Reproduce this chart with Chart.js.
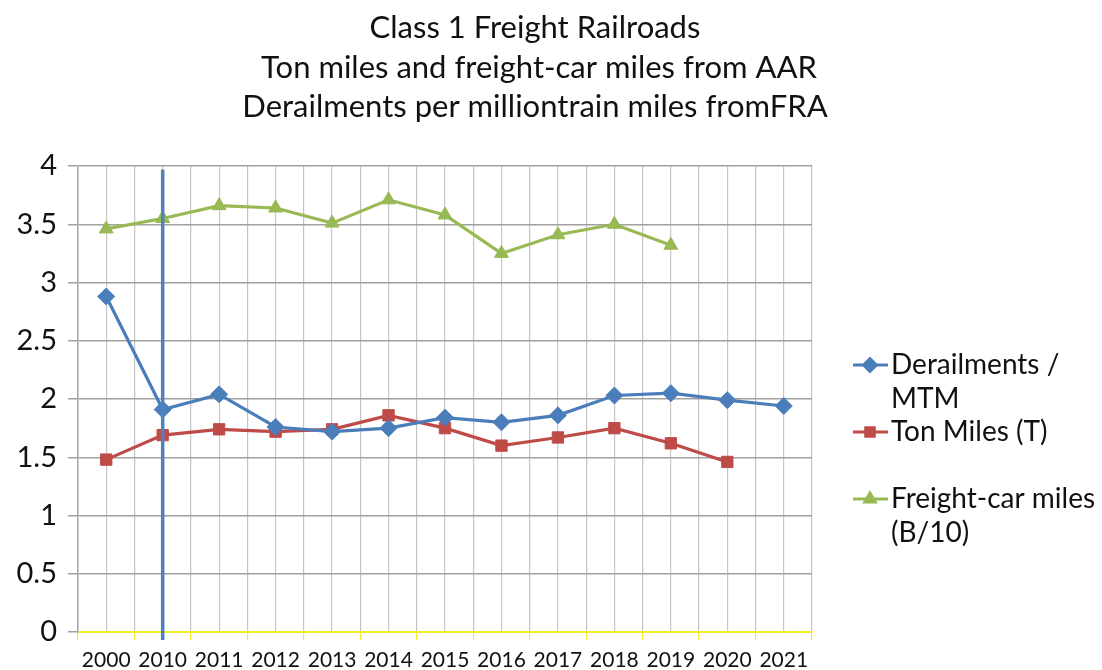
<!DOCTYPE html>
<html>
<head>
<meta charset="utf-8">
<script src="https://cdn.jsdelivr.net/npm/chart.js@4/dist/chart.umd.min.js"></script>
<style>
  html, body { margin: 0; padding: 0; background: #fff; }
  #wrap { width: 1102px; height: 670px; position: relative; }
</style>
</head>
<body>
<div id="wrap"><canvas id="chart_rail"></canvas></div>
<script>
// chart data
const years = ["2000", "2010", "2011", "2012", "2013", "2014", "2015", "2016", "2017", "2018", "2019", "2020", "2021"];
const derailments = [2.88, 1.91, 2.04, 1.76, 1.72, 1.75, 1.84, 1.80, 1.86, 2.03, 2.05, 1.99, 1.94];
const tonMiles = [1.48, 1.69, 1.74, 1.72, 1.74, 1.86, 1.75, 1.60, 1.67, 1.75, 1.62, 1.46, null];
const carMiles = [3.46, 3.55, 3.66, 3.64, 3.51, 3.71, 3.58, 3.25, 3.41, 3.50, 3.32, null, null];
const yTicks = [0, 0.5, 1, 1.5, 2, 2.5, 3, 3.5, 4];
const titleLines = ["Class 1 Freight Railroads", " Ton miles and freight-car miles from AAR", "Derailments per milliontrain miles fromFRA"];
const legendLines = [["Derailments /", "MTM"], ["Ton Miles (T)"], ["Freight-car miles", "(B/10)"]];
const markerYear = "2010";

const BLUE = "#4a7ebb", RED = "#be4b48", GREEN = "#98b954";
const FONT = "Lato, 'Open Sans', sans-serif";

function series(label, data, color, style, radius) {
  return {
    label: label.join(" "),
    legendText: label,
    data: data,
    borderColor: color,
    backgroundColor: color,
    borderWidth: 3.2,
    pointStyle: style,
    pointRadius: radius,
    pointHoverRadius: radius,
    pointBorderWidth: 1,
    tension: 0,
    spanGaps: false
  };
}

// blue vertical line at 2010
const yearLine = {
  id: "yearLine",
  afterDatasetsDraw(chart) {
    const x = chart.scales.x.getPixelForValue(years.indexOf(markerYear));
    const y = chart.scales.y;
    const ctx = chart.ctx;
    ctx.save();
    ctx.strokeStyle = "#4f81bd";
    ctx.lineWidth = 3.5;
    ctx.beginPath();
    ctx.moveTo(x, y.getPixelForValue(3.97));
    ctx.lineTo(x, y.bottom + 8);
    ctx.stroke();
    ctx.restore();
  }
};

// legend on the right, text wraps like the original
const sideLegend = {
  id: "sideLegend",
  afterDraw(chart) {
    const ctx = chart.ctx;
    const left = chart.chartArea.right + 41;
    const lineH = 33.5;
    let yy = 365;
    ctx.save();
    ctx.font = "28px " + FONT;
    ctx.textBaseline = "middle";
    ctx.textAlign = "left";
    chart.data.datasets.forEach((ds) => {
      ctx.strokeStyle = ds.borderColor;
      ctx.fillStyle = ds.backgroundColor;
      ctx.lineWidth = 3;
      ctx.beginPath();
      ctx.moveTo(left, yy);
      ctx.lineTo(left + 35, yy);
      ctx.stroke();
      Chart.helpers.drawPoint(ctx, { pointStyle: ds.pointStyle, radius: ds.pointRadius * 0.75, borderWidth: 1, rotation: 0 }, left + 17, yy);
      ctx.fillStyle = "#111";
      ds.legendText.forEach((t, i) => ctx.fillText(t, left + 38, yy + i * lineH));
      yy += lineH * 2;
    });
    ctx.restore();
  }
};

const railChart = new Chart(document.getElementById("chart_rail"), {
  type: "line",
  data: {
    labels: years,
    datasets: [
      series(legendLines[0], derailments, BLUE, "rectRot", 8.5),
      series(legendLines[1], tonMiles, RED, "rect", 8),
      series(legendLines[2], carMiles, GREEN, "triangle", 8)
    ]
  },
  options: {
    responsive: true,
    maintainAspectRatio: false,
    animation: false,
    layout: { padding: { left: 0, right: 32, top: 0, bottom: 0 } },
    plugins: {
      legend: { display: false },
      tooltip: { enabled: false },
      title: {
        display: true,
        text: titleLines,
        color: "#111",
        font: { family: FONT, size: 31, weight: "normal", lineHeight: 1.28 },
        padding: { top: 8, bottom: 39 }
      }
    },
    scales: {
      x: {
        offset: true,
        grid: { offset: true, color: "#c4c4c4", lineWidth: 1.2, tickColor: "#f2ee1f", tickLength: 8 },
        border: { display: true, color: "#f2ee1f", width: 2 },
        ticks: { color: "#111", font: { family: FONT, size: 21 }, padding: 8, maxRotation: 0, autoSkip: false },
        afterFit: (s) => { s.height = 38; }
      },
      x2: {
        type: "category",
        labels: years,
        position: "bottom",
        offset: true,
        grid: { offset: false, color: "#c8c8c8", lineWidth: 1.2, drawTicks: false },
        border: { display: false },
        ticks: { display: false },
        afterFit: (s) => { s.height = 0; }
      },
      y: {
        min: 0,
        max: 4,
        afterBuildTicks: (s) => { s.ticks = yTicks.map((v) => ({ value: v })); },
        grid: { color: "#a0a0a0", lineWidth: 1.5, tickLength: 10, tickColor: "#a0a0a0" },
        border: { display: true, color: "#a8a8a8", width: 1.5 },
        ticks: { color: "#111", font: { family: FONT, size: 29 }, padding: 11, callback: (v) => String(v) },
        afterFit: (s) => { s.width = 78; }
      },
      // empty axis only to keep room for the legend
      yRoom: {
        position: "right",
        grid: { display: false, drawTicks: false },
        border: { display: false },
        ticks: { display: false },
        afterFit: (s) => { s.width = 258; }
      }
    }
  },
  plugins: [yearLine, sideLegend]
});
</script>
</body>
</html>
